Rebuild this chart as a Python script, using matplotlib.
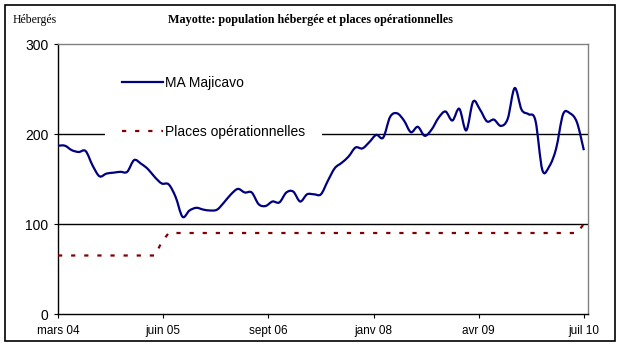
import numpy as np
import matplotlib.pyplot as plt
from matplotlib.patches import Rectangle, PathPatch
from matplotlib.path import Path
from matplotlib.lines import Line2D

# Données mensuelles, mars 2004 -> juillet 2010 (77 mois)
majicavo = [187, 187, 182, 180, 181, 165, 153, 156, 157, 158,
            158, 171, 167, 161, 152, 145, 144, 130, 108, 115,
            118, 116, 115, 116, 124, 133, 139, 135, 135, 122,
            120, 125, 124, 135, 136, 125, 133, 133, 133, 148,
            162, 168, 175, 185, 184, 191, 199, 196, 219, 223,
            215, 202, 208, 198, 205, 218, 225, 215, 228, 204,
            236, 227, 214, 216, 209, 217, 251, 227, 222, 215,
            160, 164, 184, 222, 223, 213, 182]
places = [65] * 15 + [80] + [90] * 59 + [90, 100]
tick_labels = ['mars 04', 'juin 05', 'sept 06', 'janv 08', 'avr 09', 'juil 10']

mois = np.arange(len(majicavo))


def courbe_lissee(x, y):
    # ligne lissée façon Excel (Catmull-Rom -> Bézier)
    pts = np.column_stack([x, y]).astype(float)
    ext = np.vstack([pts[0], pts, pts[-1]])
    verts = [pts[0]]
    codes = [Path.MOVETO]
    for i in range(len(pts) - 1):
        p0, p1, p2, p3 = ext[i], ext[i + 1], ext[i + 2], ext[i + 3]
        verts += [p1 + (p2 - p0) / 6, p2 - (p3 - p1) / 6, p2]
        codes += [Path.CURVE4] * 3
    return Path(verts, codes)


plt.rcParams['font.family'] = ['Liberation Sans', 'DejaVu Sans']

fig = plt.figure(figsize=(6.21, 3.46), dpi=100)
ax = fig.add_axes([58 / 621, 1 - 314 / 346, 530 / 621, 270 / 346])

ax.add_patch(PathPatch(courbe_lissee(mois, majicavo), fill=False,
                       ec='#000080', lw=1.6, zorder=3))
ax.plot(mois, places, color='#800000', lw=1.6, dashes=(1.9, 4.0), zorder=3)

for v in (100, 200):
    ax.axhline(v, color='black', lw=1.0, zorder=1)

ax.set_ylim(0, 300)
ax.set_xlim(0, 76.6)
ax.set_yticks([0, 100, 200, 300])
ax.set_xticks(np.linspace(0, 76, 6))
ax.set_xticklabels(tick_labels)

for s in ('top', 'right'):
    ax.spines[s].set_color('#808080')
for s in ('left', 'bottom'):
    ax.spines[s].set_color('black')
for s in ax.spines.values():
    s.set_linewidth(1.0)

ax.tick_params(axis='y', direction='out', length=3, width=0.8, pad=4, labelsize=10)
ax.tick_params(axis='x', direction='out', length=3, width=0.8, pad=5, labelsize=8.5)

handles = [Line2D([], [], color='#000080', lw=1.6),
           Line2D([], [], color='#800000', lw=1.6, dashes=(1.9, 4.0))]
ax.legend(handles, ['MA Majicavo', 'Places opérationnelles'],
          loc='upper left', bbox_to_anchor=(0.0887, 0.944), borderaxespad=0,
          frameon=True, fancybox=False, framealpha=1, edgecolor='none',
          facecolor='white', fontsize=10, handlelength=3.0,
          handletextpad=0.1, labelspacing=2.52, borderpad=1.2)

fig.text(310 / 621, 1 - 20 / 346, 'Mayotte: population hébergée et places opérationnelles',
         ha='center', va='center', fontsize=8.7, fontweight='bold',
         family=['Liberation Serif', 'DejaVu Serif'])
fig.text(13 / 621, 1 - 20 / 346, 'Hébergés', ha='left', va='center', fontsize=8.5,
         family=['Liberation Serif', 'DejaVu Serif'])

fig.add_artist(Rectangle((5 / 621, 1 - 341 / 346), 610 / 621, 336 / 346,
                         transform=fig.transFigure, fill=False, ec='black', lw=1.2))

fig.savefig('out.png', dpi=100)
